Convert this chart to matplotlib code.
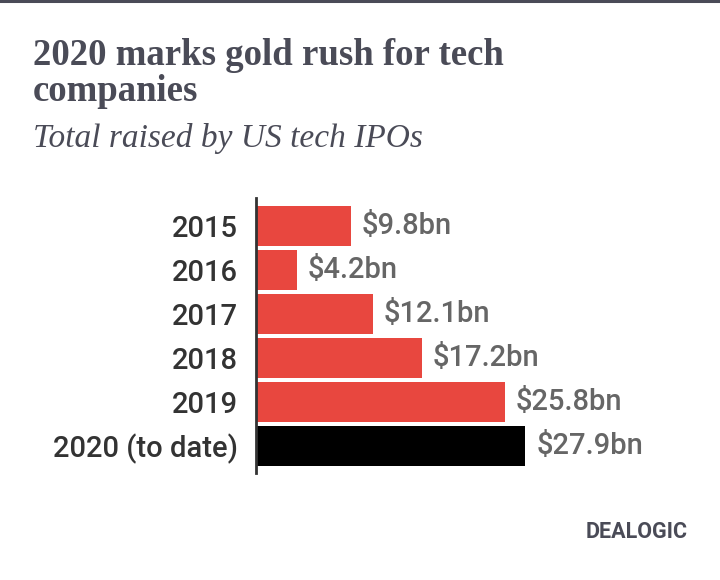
import matplotlib
matplotlib.use("Agg")
import matplotlib.pyplot as plt
from matplotlib import font_manager as fm

years = ["2015", "2016", "2017", "2018", "2019", "2020 (to date)"]
values = [9.8, 4.2, 12.1, 17.2, 25.8, 27.9]
value_labels = ["$9.8bn", "$4.2bn", "$12.1bn", "$17.2bn", "$25.8bn", "$27.9bn"]
colors = ["#e8473f"] * 5 + ["#000000"]

names = {f.name for f in fm.fontManager.ttflist}
cond = "Liberation Sans Narrow" if "Liberation Sans Narrow" in names else "Roboto"
serif = "Liberation Serif"

W, H = 720, 580
fig = plt.figure(figsize=(W / 100, H / 100), dpi=100)
fig.patch.set_facecolor("white")

# top rule
fig.add_artist(plt.Line2D([0, 1], [1 - 1 / H, 1 - 1 / H], color="#4a4b57", lw=2.2))

title_c = "#4a4b57"
fig.text(33 / W, 1 - 65 / H, "2020 marks gold rush for tech", family=serif,
         weight="bold", fontsize=26.5, color=title_c, va="baseline")
fig.text(33 / W, 1 - 101 / H, "companies", family=serif,
         weight="bold", fontsize=26.5, color=title_c, va="baseline")
fig.text(33 / W, 1 - 147 / H, "Total raised by US tech IPOs", family=serif,
         style="italic", fontsize=24, color=title_c, va="baseline")

ax_left, ax_right = 256, 700
ax_top, ax_bot = 198, 473
ax = fig.add_axes([ax_left / W, 1 - ax_bot / H, (ax_right - ax_left) / W, (ax_bot - ax_top) / H])
ypos = list(range(len(years)))
ax.barh(ypos, values, height=0.91, color=colors, left=0)
ax.set_xlim(0, (ax_right - ax_left) / 9.65)
ax.set_ylim(5.62, -0.64)
for s in ["top", "right", "bottom"]:
    ax.spines[s].set_visible(False)
ax.spines["left"].set_color("#333333")
ax.spines["left"].set_linewidth(2.0)
ax.set_xticks([])
ax.set_yticks(ypos)
ax.set_yticklabels(years, family=cond, fontsize=21, weight="medium", color="#333333")
ax.tick_params(axis="y", length=0, pad=13)

for y, v, lab in zip(ypos, values, value_labels):
    ax.annotate(lab, (v, y), xytext=(8, 0), textcoords="offset points",
                va="center", ha="left", family=cond, fontsize=21, weight="medium",
                color="#666666")

fig.text(688 / W, 1 - 532 / H, "DEALOGIC", family=cond, weight="bold",
         fontsize=15.5, color="#4a4b57", ha="right", va="center")

fig.savefig("out.png", dpi=100)
